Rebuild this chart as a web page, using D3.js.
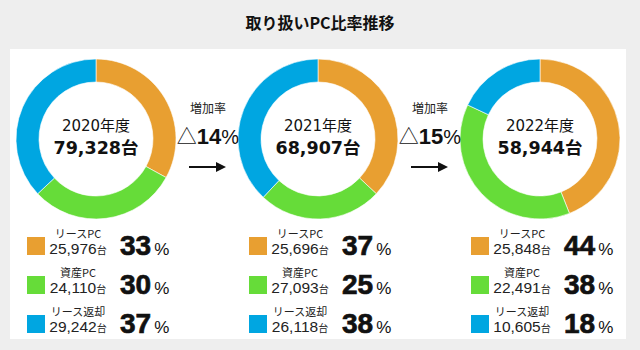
<!DOCTYPE html>
<html><head><meta charset="utf-8">
<script src="https://cdn.jsdelivr.net/npm/d3@7"></script>
<style>body{margin:0;background:#eeeeee;}svg{display:block;}</style>
</head><body>
<svg id="c" width="640" height="350"></svg>
<script>
const title = "取り扱いPC比率推移";
const years = ["2020年度", "2021年度", "2022年度"];
const totals = [79328, 68907, 58944];
const categories = ["リースPC", "資産PC", "リース返却"];
const colors = ["#E89F31", "#66DC39", "#00A6E1"];
const counts = [[25976, 24110, 29242], [25696, 27093, 26118], [25848, 22491, 10605]];
const percents = [[33, 30, 37], [37, 25, 38], [44, 38, 18]];
const growthLabel = "増加率";
const growth = [14, 15];

const svg = d3.select("#c");
const JP = "'Noto Sans CJK JP','Noto Sans',sans-serif";
const DV = "'DejaVu Sans','Noto Sans CJK JP',sans-serif";
const AR = "'Liberation Sans',Arial,sans-serif";
const fmt = d3.format(",");

svg.append("rect").attr("width", 640).attr("height", 350).attr("fill", "#eeeeee");
svg.append("rect").attr("x", 10).attr("y", 49).attr("width", 616).attr("height", 290).attr("fill", "#ffffff");

svg.append("text").attr("x", 320).attr("y", 29).attr("text-anchor", "middle")
  .attr("font-family", JP).attr("font-weight", "bold").attr("font-size", 16).attr("fill", "#111").text(title);

const x = d3.scalePoint().domain(years).range([96, 540]);
const cy = 139;
const pie = d3.pie().sort(null).value(d => d);
const arc = d3.arc().innerRadius(57).outerRadius(80);

years.forEach((yr, i) => {
  const cx = x(yr);
  const g = svg.append("g").attr("transform", `translate(${cx},${cy})`);
  g.selectAll("path").data(pie(percents[i])).join("path")
    .attr("d", arc).attr("fill", (d, j) => colors[j])
    .attr("stroke", "#fff").attr("stroke-width", 0.6);
  g.append("text").attr("y", -8).attr("text-anchor", "middle")
    .attr("font-family", DV).attr("font-size", 15).attr("fill", "#111").text(yr);
  g.append("text").attr("y", 15).attr("text-anchor", "middle")
    .attr("font-family", DV).attr("font-weight", "bold").attr("font-size", 17.5).attr("fill", "#111")
    .text(fmt(totals[i]) + "台");

  // legend
  const lg = svg.append("g").attr("transform", `translate(${cx - 69},237)`);
  categories.forEach((cat, j) => {
    const r = lg.append("g").attr("transform", `translate(0,${j * 39})`);
    r.append("rect").attr("width", 18).attr("height", 18).attr("fill", colors[j]);
    r.append("text").attr("x", 51).attr("y", 1).attr("text-anchor", "middle")
      .attr("font-family", JP).attr("font-size", 11).attr("fill", "#222").text(cat);
    const t = r.append("text").attr("x", 51).attr("y", 17).attr("text-anchor", "middle")
      .attr("font-family", AR).attr("fill", "#222");
    t.append("tspan").attr("font-size", 15.5).text(fmt(counts[i][j]));
    t.append("tspan").attr("font-family", JP).attr("font-size", 10).text("台");
    const p = r.append("text").attr("x", 93).attr("y", 18)
      .attr("font-family", AR).attr("fill", "#111");
    p.append("tspan").attr("font-size", 28).attr("font-weight", "bold")
      .attr("stroke", "#111").attr("stroke-width", 0.7).text(percents[i][j]);
    p.append("tspan").attr("font-size", 17).attr("dx", 3).text("%");
  });
});

growth.forEach((gv, k) => {
  const mx = (x(years[k]) + 112);
  const g = svg.append("g").attr("transform", `translate(${mx},0)`);
  g.append("text").attr("y", 113).attr("text-anchor", "middle")
    .attr("font-family", JP).attr("font-size", 12).attr("fill", "#222").text(growthLabel);
  const t = g.append("text").attr("y", 144).attr("text-anchor", "middle")
    .attr("font-family", AR).attr("fill", "#111");
  t.append("tspan").attr("font-family", JP).attr("font-size", 20).text("△");
  t.append("tspan").attr("font-size", 22).attr("font-weight", "bold").text(gv);
  t.append("tspan").attr("font-size", 20).text("%");
  g.append("line").attr("x1", -19).attr("x2", 10).attr("y1", 167).attr("y2", 167)
    .attr("stroke", "#111").attr("stroke-width", 2);
  g.append("path").attr("d", "M8,162 L18,167 L8,172 Z").attr("fill", "#111");
});
</script>
</body></html>
